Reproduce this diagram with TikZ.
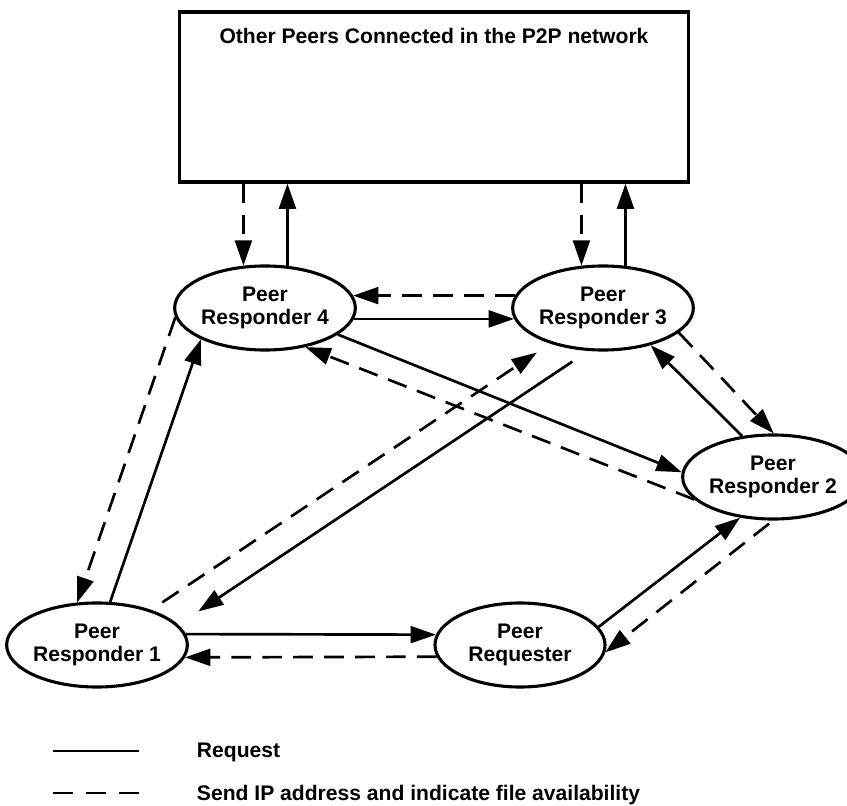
\documentclass[tikz,border=0pt]{standalone}
\usepackage{fontspec}
\setmainfont{Liberation Sans}
\usetikzlibrary{shapes.geometric, arrows.meta, positioning}

\begin{document}
\begin{tikzpicture}[x=0.025cm, y=-0.025cm,
    every node/.style={font=\fontsize{15}{16.5}\selectfont\bfseries},
    peer/.style={draw, ellipse, line width=2.2pt, minimum width=4.25cm, minimum height=2.1cm, inner sep=0pt, align=center},
    reqarrow/.style={line width=1.9pt, -{Triangle[length=18pt, width=12pt]}},
    iparrow/.style={reqarrow, dash pattern=on 14pt off 8pt}]
    \useasboundingbox (0,0) rectangle (847,806);

    % Other peers of the network
    \node[draw, line width=2.2pt, minimum width=12.7cm, minimum height=4.25cm] (others) at (434,97) {};
    \node[anchor=base] (otherstitle) at (434,44) {Other Peers Connected in the P2P network};

    % Peers
    \node[peer] (r4) at (265,308) {Peer\\Responder 4};
    \node[peer] (r3) at (603,308) {Peer\\Responder 3};
    \node[peer] (r2) at (773,477) {Peer\\Responder 2};
    \node[peer] (r1) at (97,645) {Peer\\Responder 1};
    \node[peer] (rq) at (520,645) {Peer\\Requester};

    % Links to the other peers
    \draw[iparrow] (r4.117 |- others.south) -- (r4.117);
    \draw[reqarrow] (r4.62) -- (r4.62 |- others.south);
    \draw[iparrow] (r3.117 |- others.south) -- (r3.117);
    \draw[reqarrow] (r3.62) -- (r3.62 |- others.south);

    % Responder 4 <-> Responder 3
    \draw[iparrow] (r3.172) -- (r4.8);
    \draw[reqarrow] (r4.-7) -- (r3.187);

    % Responder 1 <-> Requester
    \draw[reqarrow] (r1.7) -- (rq.173);
    \draw[iparrow] (rq.188) -- (r1.-8);

    % Responder 1 <-> Responder 4
    \draw[iparrow] (r4.186) -- (r1.115);
    \draw[reqarrow] (r1.73) -- (r4.206);

    % Responder 1 <-> Responder 3
    \draw[iparrow, shorten <=9.5pt, shorten >=11.4pt] (r1.33) -- (r3.214);
    \draw[reqarrow, shorten <=13.5pt, shorten >=17pt] (r3.251) -- (r1.14);

    % Responder 4 <-> Responder 2
    \draw[reqarrow] (r4.340) -- (r2.177);
    \draw[iparrow] (r2.196) -- (r4.316);

    % Responder 3 <-> Responder 2
    \draw[iparrow] (r3.342) -- (r2.89);
    \draw[reqarrow] (r2.127) -- (r3.322);

    % Requester <-> Responder 2
    \draw[reqarrow] (rq.13) -- (r2.231);
    \draw[iparrow, shorten <=3.5pt] (r2.270) -- (rq.355);

    % Legend
    \coordinate (solidA) at (53,751);
    \coordinate (solidB) at (139,751);
    \coordinate (dashA) at (53,793);
    \coordinate (dashB) at (139,793);
    \draw[line width=1.9pt] (solidA) -- (solidB);
    \draw[line width=1.9pt, dash pattern=on 14pt off 9.5pt] (dashA) -- (dashB);
    \node[anchor=base west] (reqtext) at (192,757) {Request};
    \node[anchor=base west] (iptext) at (192,800) {Send IP address and indicate file availability};
\end{tikzpicture}
\end{document}
